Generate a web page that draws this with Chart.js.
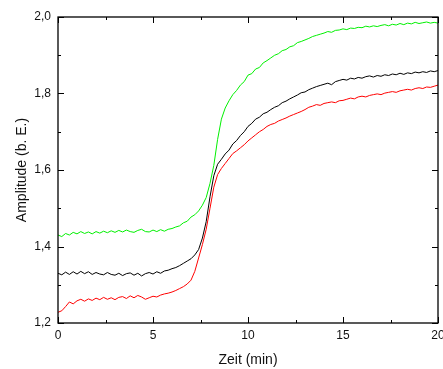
<!DOCTYPE html>
<html>
<head>
<meta charset="utf-8">
<script src="https://cdn.jsdelivr.net/npm/chart.js@4"></script>
<style>
  body { margin: 0; background: #fff; }
  #wrap { width: 443px; height: 369px; }
</style>
</head>
<body>
<div id="wrap"><canvas id="ampChart" width="443" height="369"></canvas></div>
<script>
// sample times (min)
const times = [
  0, 0.2, 0.4, 0.6, 0.8, 1, 1.2, 1.4, 1.6, 1.8, 2, 2.2, 2.4, 2.6, 2.8, 3, 3.2, 3.4, 3.6, 3.8,
  4, 4.2, 4.4, 4.6, 4.8, 5, 5.2, 5.4, 5.6, 5.8, 6, 6.2, 6.4, 6.6, 6.8, 7, 7.2, 7.4, 7.6, 7.8,
  8, 8.2, 8.4, 8.6, 8.8, 9, 9.2, 9.4, 9.6, 9.8, 10, 10.2, 10.4, 10.6, 10.8, 11, 11.2, 11.4, 11.6, 11.8,
  12, 12.2, 12.4, 12.6, 12.8, 13, 13.2, 13.4, 13.6, 13.8, 14, 14.2, 14.4, 14.6, 14.8, 15, 15.2, 15.4, 15.6, 15.8,
  16, 16.2, 16.4, 16.6, 16.8, 17, 17.2, 17.4, 17.6, 17.8, 18, 18.2, 18.4, 18.6, 18.8, 19, 19.2, 19.4, 19.6, 19.8, 20,
];

const greenValues = [
  1.430, 1.426, 1.434, 1.430, 1.437, 1.433, 1.439, 1.434, 1.438, 1.433, 1.439, 1.435, 1.440, 1.436, 1.441, 1.437, 1.442, 1.438, 1.443, 1.439,
  1.437, 1.442, 1.445, 1.439, 1.438, 1.443, 1.439, 1.444, 1.440, 1.445, 1.447, 1.451, 1.454, 1.462, 1.466, 1.477, 1.483, 1.493, 1.508, 1.528,
  1.565, 1.612, 1.680, 1.733, 1.762, 1.781, 1.797, 1.808, 1.822, 1.831, 1.848, 1.852, 1.864, 1.868, 1.880, 1.886, 1.893, 1.900, 1.904, 1.912,
  1.915, 1.922, 1.925, 1.933, 1.936, 1.940, 1.944, 1.949, 1.952, 1.955, 1.958, 1.962, 1.960, 1.965, 1.966, 1.969, 1.967, 1.971, 1.970, 1.973,
  1.972, 1.976, 1.974, 1.977, 1.975, 1.978, 1.980, 1.977, 1.981, 1.979, 1.983, 1.980, 1.984, 1.982, 1.986, 1.983, 1.985, 1.987, 1.984, 1.986, 1.984,
];

const blackValues = [
  1.330, 1.326, 1.333, 1.327, 1.334, 1.328, 1.335, 1.329, 1.334, 1.327, 1.332, 1.328, 1.326, 1.332, 1.327, 1.325, 1.330, 1.324, 1.329, 1.331,
  1.325, 1.330, 1.323, 1.329, 1.332, 1.328, 1.334, 1.330, 1.336, 1.338, 1.342, 1.345, 1.350, 1.356, 1.362, 1.368, 1.378, 1.392, 1.422, 1.465,
  1.530, 1.585, 1.615, 1.628, 1.642, 1.652, 1.668, 1.677, 1.690, 1.700, 1.714, 1.722, 1.733, 1.738, 1.747, 1.751, 1.758, 1.764, 1.768, 1.776,
  1.780, 1.786, 1.791, 1.796, 1.802, 1.804, 1.810, 1.814, 1.818, 1.821, 1.824, 1.827, 1.823, 1.831, 1.834, 1.837, 1.835, 1.840, 1.838, 1.842,
  1.840, 1.844, 1.846, 1.843, 1.847, 1.845, 1.849, 1.847, 1.851, 1.849, 1.853, 1.850, 1.854, 1.852, 1.856, 1.854, 1.857, 1.855, 1.859, 1.857, 1.860,
];

const redValues = [
  1.228, 1.232, 1.243, 1.255, 1.250, 1.258, 1.262, 1.257, 1.263, 1.259, 1.265, 1.261, 1.267, 1.262, 1.266, 1.261, 1.267, 1.269, 1.264, 1.271,
  1.266, 1.272, 1.268, 1.262, 1.266, 1.270, 1.268, 1.273, 1.276, 1.278, 1.281, 1.285, 1.290, 1.295, 1.302, 1.312, 1.335, 1.370, 1.405, 1.445,
  1.500, 1.555, 1.588, 1.604, 1.617, 1.630, 1.643, 1.650, 1.658, 1.666, 1.676, 1.684, 1.692, 1.700, 1.706, 1.714, 1.719, 1.722, 1.728, 1.732,
  1.736, 1.741, 1.745, 1.749, 1.753, 1.758, 1.764, 1.767, 1.771, 1.769, 1.774, 1.776, 1.778, 1.776, 1.781, 1.782, 1.785, 1.788, 1.786, 1.791,
  1.793, 1.791, 1.795, 1.797, 1.799, 1.797, 1.801, 1.803, 1.805, 1.803, 1.807, 1.809, 1.811, 1.809, 1.813, 1.815, 1.813, 1.817, 1.816, 1.819, 1.822,
];

const xMajorTicks = [0, 5, 10, 15, 20];
const xMinorTicks = [2.5, 7.5, 12.5, 17.5];
const yMajorTicks = [1.2, 1.4, 1.6, 1.8, 2.0];
const yMinorTicks = [1.3, 1.5, 1.7, 1.9];

function toPoints(values) {
  return values.map((v, i) => ({ x: times[i], y: v }));
}

// frame and inward tick marks, like the origin-style plot
const framePlugin = {
  id: "frame",
  afterDraw(chart) {
    const { ctx, chartArea: a, scales } = chart;
    const x = scales.x;
    const y = scales.y;
    ctx.save();
    ctx.strokeStyle = "#000";
    ctx.lineWidth = 1;
    ctx.beginPath();
    const mark = (px, len, vertical) => {
      px = Math.round(px) + 0.5;
      if (vertical) {
        ctx.moveTo(px, a.bottom);
        ctx.lineTo(px, a.bottom - len);
        ctx.moveTo(px, a.top);
        ctx.lineTo(px, a.top + len);
      } else {
        ctx.moveTo(a.left, px);
        ctx.lineTo(a.left + len, px);
        ctx.moveTo(a.right, px);
        ctx.lineTo(a.right - len, px);
      }
    };
    xMajorTicks.forEach((t) => mark(x.getPixelForValue(t), 6, true));
    xMinorTicks.forEach((t) => mark(x.getPixelForValue(t), 3, true));
    yMajorTicks.forEach((t) => mark(y.getPixelForValue(t), 6, false));
    yMinorTicks.forEach((t) => mark(y.getPixelForValue(t), 3, false));
    ctx.stroke();
    ctx.lineWidth = 1.3;
    ctx.strokeRect(a.left, a.top, a.right - a.left, a.bottom - a.top);
    ctx.restore();
  },
};

const textFont = { family: "'Liberation Sans', Arial, sans-serif", size: 12 };

new Chart(document.getElementById("ampChart"), {
  type: "line",
  data: {
    datasets: [
      { data: toPoints(greenValues), borderColor: "#00f000" },
      { data: toPoints(blackValues), borderColor: "#000000" },
      { data: toPoints(redValues), borderColor: "#ff0000" },
    ],
  },
  options: {
    responsive: false,
    animation: false,
    events: [],
    elements: {
      point: { radius: 0 },
      line: { borderWidth: 1, tension: 0 },
    },
    layout: { padding: { top: 17, right: 5, left: 0, bottom: 0 } },
    plugins: { legend: { display: false }, tooltip: { enabled: false } },
    scales: {
      x: {
        type: "linear",
        min: 0,
        max: 20,
        grid: { display: false, drawTicks: false },
        border: { display: false },
        ticks: {
          stepSize: 5,
          padding: 5,
          color: "#111",
          font: textFont,
          maxRotation: 0,
        },
        title: {
          display: true,
          text: "Zeit (min)",
          color: "#111",
          font: { family: textFont.family, size: 14 },
          padding: { top: 0, bottom: 0 },
        },
        afterFit: (scale) => {
          scale.height = 46;
          scale.paddingLeft = 0;
          scale.paddingRight = 0;
        },
      },
      y: {
        min: 1.2,
        max: 2.0,
        grid: { display: false, drawTicks: false },
        border: { display: false },
        ticks: {
          stepSize: 0.2,
          padding: 7,
          color: "#111",
          font: textFont,
          callback: (value) => value.toFixed(1).replace(".", ","),
        },
        title: {
          display: true,
          text: "Amplitude (b. E.)",
          color: "#111",
          font: { family: textFont.family, size: 14 },
          padding: { top: 14, bottom: 0 },
        },
        afterFit: (scale) => {
          scale.width = 58;
          scale.paddingTop = 0;
          scale.paddingBottom = 0;
        },
      },
    },
  },
  plugins: [framePlugin],
});
</script>
</body>
</html>
